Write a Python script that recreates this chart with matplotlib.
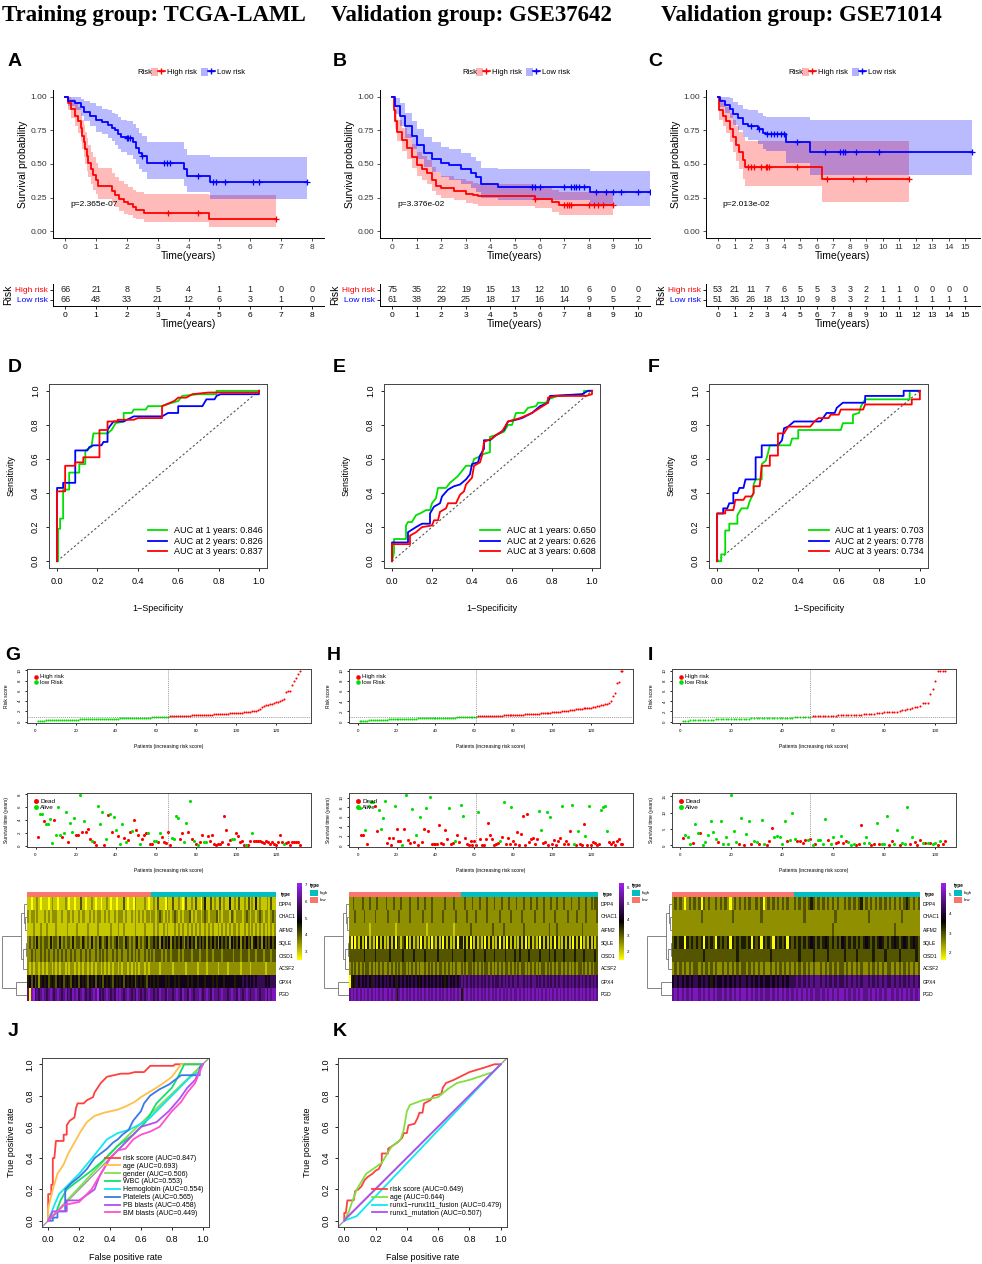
import numpy as np
import matplotlib
matplotlib.use("Agg")
import matplotlib.pyplot as plt
from matplotlib.patches import Patch, Rectangle
from matplotlib.lines import Line2D
from matplotlib.colors import LinearSegmentedColormap
from matplotlib.legend_handler import HandlerTuple

plt.rcParams['font.family'] = ['Liberation Sans', 'DejaVu Sans']

# ---------------- data: Kaplan-Meier (A, B, C) ----------------
# columns: time, survival, lower CI, upper CI ; censor times
A_high_t = [0, 0.08, 0.2, 0.3, 0.4, 0.5, 0.55, 0.6, 0.65, 0.7, 0.75, 0.85, 0.9, 1.0, 1.05, 1.5, 1.6, 1.75, 1.9, 2.05, 2.2, 2.3, 2.55, 4.65, 6.85]
A_high_s = [1.0, 0.95, 0.91, 0.86, 0.82, 0.77, 0.71, 0.66, 0.61, 0.56, 0.51, 0.46, 0.42, 0.38, 0.34, 0.30, 0.27, 0.24, 0.22, 0.20, 0.18, 0.16, 0.135, 0.09, 0.09]
A_high_lo = [1.0, 0.90, 0.84, 0.78, 0.73, 0.67, 0.61, 0.55, 0.50, 0.45, 0.40, 0.35, 0.31, 0.28, 0.24, 0.21, 0.18, 0.15, 0.13, 0.12, 0.10, 0.09, 0.07, 0.03, 0.03]
A_high_up = [1.0, 1.0, 0.98, 0.95, 0.92, 0.88, 0.83, 0.79, 0.74, 0.69, 0.64, 0.59, 0.55, 0.51, 0.47, 0.43, 0.40, 0.37, 0.35, 0.33, 0.31, 0.29, 0.28, 0.27, 0.27]
A_high_cens = [3.35, 4.3, 6.85]
A_low_t = [0, 0.1, 0.3, 0.5, 0.6, 0.8, 1.0, 1.2, 1.4, 1.5, 1.6, 1.7, 1.8, 2.0, 2.2, 2.3, 2.4, 2.5, 2.65, 3.85, 3.95, 4.7, 7.85]
A_low_s = [1.0, 0.97, 0.95, 0.92, 0.89, 0.86, 0.83, 0.81, 0.79, 0.77, 0.75, 0.72, 0.70, 0.69, 0.66, 0.62, 0.58, 0.56, 0.51, 0.46, 0.41, 0.365, 0.365]
A_low_lo = [1.0, 0.93, 0.90, 0.86, 0.82, 0.78, 0.74, 0.72, 0.69, 0.67, 0.64, 0.61, 0.59, 0.57, 0.54, 0.50, 0.46, 0.44, 0.39, 0.34, 0.29, 0.24, 0.24]
A_low_up = [1.0, 1.0, 1.0, 0.98, 0.97, 0.95, 0.93, 0.91, 0.90, 0.88, 0.87, 0.85, 0.83, 0.82, 0.80, 0.77, 0.73, 0.71, 0.66, 0.61, 0.57, 0.555, 0.555]
A_low_cens = [2.0, 2.05, 2.1, 2.5, 3.2, 3.3, 3.4, 4.3, 4.8, 4.9, 5.2, 6.1, 6.3, 7.85]

B_high_t = [0, 0.05, 0.1, 0.2, 0.4, 0.6, 0.8, 1.0, 1.2, 1.4, 1.6, 1.8, 2.0, 2.5, 3.0, 3.3, 3.5, 5.8, 6.5, 6.8, 9.0]
B_high_s = [1.0, 0.90, 0.82, 0.74, 0.68, 0.62, 0.55, 0.49, 0.46, 0.43, 0.38, 0.34, 0.32, 0.30, 0.28, 0.27, 0.26, 0.24, 0.215, 0.195, 0.195]
B_high_lo = [1.0, 0.85, 0.76, 0.67, 0.60, 0.54, 0.47, 0.41, 0.38, 0.35, 0.30, 0.27, 0.25, 0.23, 0.21, 0.20, 0.19, 0.17, 0.14, 0.12, 0.12]
B_high_up = [1.0, 0.96, 0.90, 0.83, 0.77, 0.72, 0.65, 0.59, 0.56, 0.53, 0.48, 0.44, 0.41, 0.39, 0.37, 0.36, 0.35, 0.33, 0.31, 0.29, 0.29]
B_high_cens = [5.8, 7.0, 7.1, 7.2, 7.3, 8.0, 8.2, 8.4, 8.6, 9.0]
B_low_t = [0, 0.1, 0.3, 0.5, 0.8, 1.0, 1.3, 1.6, 2.0, 2.3, 2.8, 3.2, 3.4, 3.6, 4.3, 8.05, 10.5]
B_low_s = [1.0, 0.93, 0.86, 0.78, 0.71, 0.64, 0.58, 0.54, 0.51, 0.49, 0.46, 0.43, 0.40, 0.35, 0.33, 0.29, 0.29]
B_low_lo = [1.0, 0.87, 0.78, 0.69, 0.61, 0.54, 0.48, 0.44, 0.40, 0.38, 0.35, 0.32, 0.29, 0.25, 0.23, 0.185, 0.185]
B_low_up = [1.0, 0.99, 0.95, 0.88, 0.82, 0.76, 0.70, 0.66, 0.63, 0.61, 0.58, 0.55, 0.52, 0.47, 0.46, 0.45, 0.45]
B_low_cens = [5.7, 5.8, 6.0, 7.0, 7.3, 7.4, 7.5, 7.6, 7.8, 8.3, 8.7, 9.0, 9.3, 10.0, 10.5]

C_high_t = [0, 0.05, 0.3, 0.5, 0.7, 0.9, 1.1, 1.3, 1.5, 1.65, 6.3, 11.6]
C_high_s = [1.0, 0.90, 0.86, 0.82, 0.76, 0.70, 0.64, 0.59, 0.53, 0.48, 0.385, 0.385]
C_high_lo = [1.0, 0.83, 0.78, 0.73, 0.66, 0.59, 0.52, 0.46, 0.39, 0.335, 0.22, 0.22]
C_high_up = [1.0, 0.98, 0.95, 0.92, 0.88, 0.83, 0.78, 0.74, 0.70, 0.67, 0.67, 0.67]
C_high_cens = [1.8, 2.0, 2.2, 2.6, 2.9, 3.0, 3.1, 4.8, 6.6, 8.2, 9.0, 11.6]
C_low_t = [0, 0.1, 0.4, 0.7, 0.9, 1.2, 1.5, 1.8, 2.4, 2.7, 2.9, 4.1, 5.6, 15.4]
C_low_s = [1.0, 0.97, 0.94, 0.91, 0.87, 0.84, 0.80, 0.78, 0.76, 0.73, 0.72, 0.66, 0.59, 0.59]
C_low_lo = [1.0, 0.92, 0.88, 0.84, 0.79, 0.75, 0.70, 0.68, 0.65, 0.61, 0.60, 0.505, 0.42, 0.42]
C_low_up = [1.0, 1.0, 1.0, 0.99, 0.96, 0.94, 0.91, 0.90, 0.88, 0.86, 0.85, 0.85, 0.825, 0.825]
C_low_cens = [2.0, 2.5, 3.0, 3.2, 3.4, 3.6, 3.8, 4.0, 4.8, 6.5, 7.4, 7.6, 7.7, 8.4, 9.8, 15.4]

A_risk_high = [66, 21, 8, 5, 4, 1, 1, 0, 0]
A_risk_low = [66, 48, 33, 21, 12, 6, 3, 1, 0]
B_risk_high = [75, 35, 22, 19, 15, 13, 12, 10, 6, 0, 0]
B_risk_low = [61, 38, 29, 25, 18, 17, 16, 14, 9, 5, 2]
C_risk_high = [53, 21, 11, 7, 6, 5, 5, 3, 3, 2, 1, 1, 0, 0, 0, 0]
C_risk_low = [51, 36, 26, 18, 13, 10, 9, 8, 3, 2, 1, 1, 1, 1, 1, 1]
pvals = ["p=2.365e-07", "p=3.376e-02", "p=2.013e-02"]

# ---------------- data: time-dependent ROC (D, E, F) ----------------
roc_D1 = [(0.005, 0), (0.005, 0.19), (0.015, 0.19), (0.015, 0.25), (0.03, 0.25), (0.03, 0.42), (0.06, 0.42), (0.06, 0.52), (0.11, 0.52), (0.11, 0.57), (0.14, 0.57), (0.14, 0.65), (0.17, 0.67), (0.18, 0.75), (0.25, 0.75), (0.27, 0.77), (0.29, 0.81), (0.33, 0.82), (0.33, 0.87), (0.37, 0.87), (0.38, 0.89), (0.44, 0.89), (0.45, 0.91), (0.52, 0.91), (0.57, 0.93), (0.6, 0.94), (0.62, 0.97), (0.7, 0.98), (0.79, 0.98), (0.79, 1.0), (1, 1)]
roc_D2 = [(0, 0), (0, 0.43), (0.03, 0.43), (0.03, 0.46), (0.09, 0.46), (0.09, 0.65), (0.15, 0.65), (0.16, 0.67), (0.18, 0.68), (0.22, 0.68), (0.23, 0.70), (0.25, 0.70), (0.25, 0.77), (0.26, 0.79), (0.28, 0.82), (0.33, 0.82), (0.38, 0.85), (0.52, 0.85), (0.55, 0.87), (0.6, 0.87), (0.6, 0.91), (0.72, 0.91), (0.74, 0.95), (0.78, 0.95), (0.79, 0.97), (0.81, 0.98), (1, 0.98), (1, 1)]
roc_D3 = [(0, 0), (0, 0.41), (0.04, 0.41), (0.04, 0.56), (0.09, 0.56), (0.09, 0.58), (0.13, 0.58), (0.13, 0.61), (0.21, 0.61), (0.21, 0.77), (0.25, 0.77), (0.25, 0.82), (0.3, 0.82), (0.3, 0.83), (0.38, 0.83), (0.4, 0.84), (0.52, 0.84), (0.52, 0.91), (0.56, 0.93), (0.58, 0.94), (0.6, 0.96), (0.64, 0.96), (0.67, 0.98), (0.75, 0.99), (1, 0.99), (1, 1)]
roc_E1 = [(0, 0), (0.01, 0.05), (0.01, 0.13), (0.07, 0.13), (0.07, 0.21), (0.08, 0.23), (0.1, 0.23), (0.12, 0.27), (0.14, 0.28), (0.17, 0.3), (0.19, 0.3), (0.2, 0.34), (0.22, 0.37), (0.23, 0.43), (0.27, 0.43), (0.29, 0.46), (0.3, 0.47), (0.33, 0.5), (0.35, 0.53), (0.37, 0.56), (0.4, 0.56), (0.41, 0.6), (0.43, 0.61), (0.46, 0.63), (0.49, 0.64), (0.49, 0.73), (0.52, 0.74), (0.56, 0.76), (0.58, 0.8), (0.6, 0.8), (0.62, 0.87), (0.66, 0.87), (0.68, 0.9), (0.72, 0.91), (0.73, 0.93), (0.77, 0.93), (0.78, 0.95), (0.83, 0.97), (0.96, 0.98), (0.96, 1.0), (1, 1)]
roc_E2 = [(0, 0), (0, 0.11), (0.08, 0.11), (0.08, 0.17), (0.12, 0.2), (0.15, 0.22), (0.19, 0.22), (0.19, 0.28), (0.21, 0.32), (0.24, 0.34), (0.25, 0.38), (0.28, 0.42), (0.31, 0.44), (0.34, 0.45), (0.37, 0.48), (0.39, 0.51), (0.4, 0.57), (0.43, 0.58), (0.44, 0.62), (0.46, 0.66), (0.46, 0.71), (0.49, 0.71), (0.52, 0.74), (0.56, 0.77), (0.58, 0.82), (0.62, 0.83), (0.65, 0.84), (0.7, 0.87), (0.74, 0.91), (0.78, 0.93), (0.79, 0.97), (0.95, 0.98), (0.98, 1.0), (1, 1)]
roc_E3 = [(0, 0), (0, 0.1), (0.09, 0.1), (0.09, 0.15), (0.12, 0.17), (0.15, 0.2), (0.2, 0.21), (0.21, 0.24), (0.23, 0.24), (0.24, 0.29), (0.27, 0.31), (0.28, 0.34), (0.32, 0.34), (0.34, 0.39), (0.36, 0.41), (0.37, 0.45), (0.4, 0.49), (0.41, 0.56), (0.44, 0.58), (0.45, 0.62), (0.46, 0.7), (0.5, 0.72), (0.52, 0.74), (0.55, 0.76), (0.58, 0.82), (0.64, 0.84), (0.7, 0.87), (0.74, 0.9), (0.78, 0.93), (0.78, 0.96), (0.82, 0.97), (0.97, 0.97), (1, 0.98), (1, 1)]
roc_F1 = [(0, 0), (0.02, 0), (0.02, 0.04), (0.04, 0.04), (0.04, 0.18), (0.06, 0.18), (0.06, 0.22), (0.1, 0.22), (0.1, 0.27), (0.12, 0.31), (0.15, 0.31), (0.16, 0.35), (0.18, 0.4), (0.18, 0.45), (0.19, 0.48), (0.22, 0.48), (0.22, 0.57), (0.24, 0.59), (0.25, 0.63), (0.26, 0.68), (0.36, 0.68), (0.37, 0.72), (0.4, 0.72), (0.4, 0.77), (0.61, 0.77), (0.62, 0.81), (0.67, 0.81), (0.67, 0.86), (0.7, 0.87), (0.71, 0.91), (0.73, 0.95), (0.95, 0.95), (0.95, 1.0), (1, 1)]
roc_F2 = [(0, 0), (0, 0.28), (0.03, 0.28), (0.03, 0.31), (0.05, 0.31), (0.06, 0.34), (0.08, 0.34), (0.08, 0.4), (0.1, 0.4), (0.11, 0.43), (0.13, 0.43), (0.14, 0.48), (0.19, 0.48), (0.19, 0.61), (0.22, 0.61), (0.22, 0.68), (0.3, 0.68), (0.32, 0.71), (0.33, 0.78), (0.35, 0.79), (0.38, 0.82), (0.51, 0.82), (0.54, 0.87), (0.58, 0.87), (0.59, 0.9), (0.62, 0.93), (0.73, 0.93), (0.73, 0.97), (0.92, 0.97), (0.92, 1.0), (1, 1)]
roc_F3 = [(0, 0), (0, 0.28), (0.04, 0.28), (0.04, 0.3), (0.08, 0.3), (0.09, 0.36), (0.13, 0.36), (0.14, 0.38), (0.17, 0.38), (0.18, 0.4), (0.18, 0.44), (0.21, 0.44), (0.22, 0.56), (0.26, 0.56), (0.26, 0.62), (0.3, 0.62), (0.3, 0.75), (0.33, 0.75), (0.35, 0.79), (0.46, 0.79), (0.48, 0.82), (0.5, 0.84), (0.55, 0.84), (0.56, 0.86), (0.6, 0.86), (0.61, 0.89), (0.72, 0.89), (0.73, 0.92), (0.96, 0.92), (0.96, 0.95), (1, 0.95), (1, 1)]
auc_D = ["0.846", "0.826", "0.837"]
auc_E = ["0.650", "0.626", "0.608"]
auc_F = ["0.703", "0.778", "0.734"]

# ---------------- data: risk score / survival status (G, H, I) ----------------
G_score_low = [0.10, 0.14, 0.17, 0.19, 0.21, 0.23, 0.24, 0.26, 0.27, 0.28, 0.29, 0.30, 0.31, 0.32, 0.33, 0.34, 0.35, 0.36, 0.37, 0.38,
               0.39, 0.40, 0.41, 0.42, 0.43, 0.44, 0.45, 0.46, 0.47, 0.48, 0.49, 0.50, 0.51, 0.52, 0.53, 0.54, 0.55, 0.56, 0.57, 0.58,
               0.59, 0.60, 0.61, 0.62, 0.63, 0.64, 0.65, 0.66, 0.67, 0.68, 0.70, 0.71, 0.72, 0.74, 0.75, 0.77, 0.78, 0.80, 0.82, 0.83,
               0.85, 0.87, 0.89, 0.91, 0.93, 0.95]
G_score_high = [1.00, 1.02, 1.04, 1.05, 1.07, 1.08, 1.10, 1.11, 1.13, 1.14, 1.16, 1.18, 1.19, 1.21, 1.23, 1.25, 1.27, 1.29, 1.31, 1.33,
                1.35, 1.37, 1.39, 1.41, 1.43, 1.46, 1.48, 1.50, 1.53, 1.55, 1.58, 1.61, 1.64, 1.67, 1.70, 1.73, 1.76, 1.80, 1.84, 1.88,
                1.92, 1.97, 2.02, 2.10, 2.30, 2.55, 2.80, 3.05, 3.20, 3.30, 3.35, 3.50, 3.70, 3.80, 3.90, 4.10, 4.30, 4.50, 5.70, 5.90,
                6.00, 7.20, 7.90, 8.60, 9.30, 9.90]
H_score_low = [0.10, 0.13, 0.15, 0.17, 0.19, 0.21, 0.23, 0.25, 0.27, 0.29, 0.31, 0.33, 0.35, 0.37, 0.39, 0.40, 0.42, 0.43, 0.45, 0.46,
               0.48, 0.49, 0.50, 0.52, 0.53, 0.54, 0.55, 0.56, 0.58, 0.59, 0.60, 0.61, 0.62, 0.63, 0.64, 0.65, 0.66, 0.67, 0.68, 0.69,
               0.70, 0.71, 0.72, 0.73, 0.74, 0.75, 0.76, 0.77, 0.78, 0.79, 0.80, 0.81, 0.82, 0.83, 0.84, 0.85, 0.86, 0.87, 0.88, 0.89,
               0.90]
H_score_high = [1.00, 1.02, 1.03, 1.05, 1.06, 1.08, 1.09, 1.11, 1.12, 1.14, 1.15, 1.17, 1.18, 1.20, 1.21, 1.23, 1.24, 1.26, 1.27, 1.29,
                1.31, 1.33, 1.35, 1.37, 1.39, 1.41, 1.43, 1.45, 1.48, 1.50, 1.53, 1.56, 1.59, 1.62, 1.65, 1.68, 1.71, 1.75, 1.79, 1.83,
                1.87, 1.91, 1.95, 2.00, 2.05, 2.10, 2.15, 2.20, 2.26, 2.32, 2.38, 2.44, 2.50, 2.56, 2.62, 2.66, 2.70, 2.73, 2.76, 2.80,
                2.90, 3.05, 3.15, 3.20, 3.30, 3.40, 3.55, 3.75, 4.00, 5.00, 5.60, 7.70, 7.75, 10.0, 10.0]
I_score_low = [0.10, 0.14, 0.17, 0.20, 0.22, 0.24, 0.26, 0.28, 0.30, 0.32, 0.34, 0.36, 0.38, 0.40, 0.42, 0.43, 0.45, 0.46, 0.48, 0.49,
               0.50, 0.52, 0.53, 0.54, 0.56, 0.57, 0.58, 0.60, 0.61, 0.62, 0.63, 0.64, 0.66, 0.67, 0.68, 0.69, 0.70, 0.71, 0.72, 0.74,
               0.75, 0.76, 0.77, 0.78, 0.80, 0.81, 0.82, 0.84, 0.85, 0.87, 0.90]
I_score_high = [1.00, 1.02, 1.04, 1.06, 1.08, 1.10, 1.12, 1.14, 1.16, 1.18, 1.20, 1.22, 1.24, 1.26, 1.28, 1.30, 1.32, 1.34, 1.36, 1.38,
                1.40, 1.42, 1.44, 1.46, 1.48, 1.70, 1.74, 1.78, 1.82, 1.86, 1.90, 1.92, 1.94, 1.96, 2.00, 2.20, 2.30, 2.45, 2.55, 2.65,
                2.80, 2.90, 3.00, 3.70, 3.70, 3.75, 5.40, 6.40, 8.00, 10.0, 10.0, 10.0, 10.0]

G_time = [1.4, 5.0, 4.9, 3.8, 3.3, 3.3, 4.2, 0.4, 4.0, 1.7, 6.1, 1.7, 1.3, 1.9, 5.2, 0.5, 3.5, 2.2, 4.3, 1.6,
          1.6, 7.9, 2.2, 3.9, 2.1, 2.6, 1.0, 0.7, 0.5, 0.1, 6.2, 3.4, 5.2, 0.1, 1.1, 4.8, 5.0, 2.2, 4.4, 2.5,
          1.5, 0.2, 3.4, 1.2, 0.6, 0.9, 2.2, 2.3, 4.0, 2.5, 1.7, 0.2, 1.0, 1.7, 2.0, 1.9, 0.2, 0.3, 0.8, 0.8,
          0.6, 2.0, 1.3, 0.5, 0.4, 2.1, 0.1, 1.2, 1.0, 4.7, 4.3, 1.0, 1.9, 0.5, 3.5, 2.2, 6.9, 1.1, 0.7, 0.3,
          0.1, 0.6, 1.6, 0.6, 0.6, 1.5, 0.7, 1.6, 0.3, 0.1, 0.3, 0.3, 0.6, 4.7, 2.4, 0.2, 0.9, 1.1, 1.1, 2.0,
          1.5, 0.5, 0.7, 0.1, 0.1, 0.1, 0.8, 1.9, 0.8, 0.8, 0.8, 0.7, 0.6, 0.4, 0.7, 0.5, 0.3, 0.6, 0.3, 0.1,
          0.5, 1.7, 0.5, 0.2, 0.4, 0.5, 0.1, 0.6, 0.6, 0.6, 0.6, 0.1]
G_status = ("DAADAAAADA" "AADAADAAAD" "DADADDDADD" "AAADADADAA" "DAADADDADD" "DADDDADDAA" "DADDDDDAAA"
            "ADDAADADAD" "ADDAADDDDD" "DDDDDDDAAD" "DDDDADDADD" "DDDDDDDDDD" "DDDADDDDDD" "DD")
H_time = [7.9, 2.2, 2.1, 3.2, 0.3, 8.3, 9.2, 9.2, 8.3, 3.1, 7.5, 3.4, 5.8, 9.4, 0.5, 1.5, 0.2, 1.5, 8.3, 3.5,
          0.9, 1.0, 0.2, 3.5, 10.6, 1.2, 0.6, 7.6, 0.8, 2.1, 0.2, 5.9, 0.7, 3.5, 7.8, 3.0, 10.1, 0.4, 0.3, 0.4,
          0.4, 4.2, 0.6, 0.4, 3.3, 1.3, 7.9, 0.3, 0.5, 0.9, 2.1, 0.8, 8.5, 6.1, 1.6, 0.3, 0.2, 0.9, 0.1, 0.9,
          0.1, 7.1, 1.3, 0.1, 0.1, 1.3, 4.8, 2.1, 1.4, 0.2, 0.3, 0.6, 1.0, 1.8, 9.1, 0.3, 1.6, 0.3, 8.1, 1.0,
          0.3, 2.9, 0.1, 2.5, 6.2, 0.2, 6.7, 0.8, 1.3, 1.6, 0.3, 1.4, 7.3, 3.2, 0.5, 0.7, 7.1, 0.2, 5.9, 0.4,
          1.2, 0.2, 1.0, 1.5, 8.3, 0.3, 0.9, 0.3, 3.1, 8.5, 0.3, 0.1, 3.1, 0.3, 0.1, 4.6, 1.9, 0.1, 8.2, 0.2,
          0.7, 0.6, 0.2, 0.3, 7.4, 8.1, 8.2, 3.1, 0.7, 0.4, 0.7, 0.2, 0.9, 1.3, 0.4, 0.4]
H_status = ("ADDADAAADD" "AAAADDDDAD" "DDADADDADA" "DADDADADDD" "DDDDDDADDA" "DDAADDDDDD" "DADDDDDDDD"
            "DDADADDDAD" "DDDDDDDDDD" "DDAADDADAD" "DDDDADDDDA" "ADADDDADAD" "DDDDAAAADD" "DDDDDD")
I_time = [2.2, 3.2, 2.6, 0.5, 0.6, 6.5, 3.9, 3.9, 0.2, 0.9, 3.1, 7.4, 4.0, 1.9, 1.0, 7.4, 0.4, 2.4, 0.5, 15.4,
          4.5, 1.1, 0.4, 8.4, 0.2, 3.4, 7.4, 0.5, 1.4, 1.0, 0.4, 7.6, 0.5, 0.1, 1.4, 5.4, 2.7, 2.9, 2.5, 0.5,
          7.4, 1.2, 1.7, 9.8, 1.9, 1.4, 1.2, 0.7, 1.6, 1.7, 2.0, 0.2, 0.3, 1.5, 1.7, 0.5, 8.2, 1.7, 0.5, 2.7,
          0.8, 0.9, 2.9, 0.6, 1.3, 1.0, 0.2, 0.4, 0.1, 0.5, 6.2, 0.8, 2.4, 0.7, 0.2, 0.3, 6.8, 0.4, 0.5, 0.5,
          9.0, 0.2, 1.4, 0.5, 4.6, 0.2, 0.8, 0.5, 11.6, 0.5, 2.5, 1.1, 0.2, 1.6, 0.8, 0.6, 0.7, 0.6, 0.4, 0.6,
          0.1, 1.4, 0.4, 1.4]
I_status = ("DAAADAADAA" "AAAADAAAAA" "AADADAADAA" "DAADDDAAAA" "ADAAADDDDA" "DADAAAADAA" "DDADDAAADD"
            "DAAADDADAA" "ADDAADAAAD" "ADDDADADAA" "DADD")

# ---------------- data: heatmaps (digit 0 = lowest, 9 = highest expression) ----------------
genes = ["DPP4", "CHAC1", "AIFM2", "SQLE", "CISD1", "ACSF2", "GPX4", "PGD"]
G_heat = [
    "1101121011" "1012110111" "2101101131" "1011210110" "1121011011" "1310110211" "112101"
    "1213111021" "1311210131" "1213110241" "1312113121" "1411213112" "1312141211" "121311",
    "2122121112" "1212221121" "1221211212" "2112121221" "1212112122" "2121121212" "121221"
    "2212321212" "1232121222" "3121221232" "1222312122" "2132122212" "3212212321" "221232",
    "1112111211" "2111121111" "1211112111" "1121111211" "1111211121" "1211111211" "112111"
    "1212112121" "1121212112" "1212121121" "2121121212" "1212212112" "1212121212" "121212",
    "2323242323" "3242332423" "2332423324" "3232423243" "2342323423" "3243232342" "323423"
    "3434253435" "2434353243" "5342435342" "4353425343" "4253435243" "5342453425" "343534",
    "2232322323" "2322323232" "3223232232" "2323223232" "3232232322" "3223232323" "223232"
    "3233323233" "2333232333" "3233323332" "3323333233" "3332333233" "3233323332" "333233",
    "2121221212" "1221212122" "1212212121" "2212121221" "2121212212" "1221212121" "221212"
    "2222122222" "2122222212" "2222122221" "2222212222" "1222222122" "2212222222" "122222",
    "4535342454" "5345435453" "4543545354" "5435453545" "3545435454" "5354545345" "454354"
    "5454555454" "5545455554" "5455455545" "5545455545" "5555455565" "6565656666" "565666",
    "7089676787" "6787678767" "8676878678" "7676787967" "6787676878" "7678767687" "676787"
    "7676877687" "7678768776" "8767787678" "7687767877" "6787768767" "8767787677" "868788",
]
H_heat = [
    "2232222322" "2322232222" "3222322232" "2223222322" "2322232222" "2232222322" "2"
    "2232223222" "3222322232" "2232223222" "3222322232" "2322232223" "2232223222" "3222322232" "23233",
    "2223222232" "2222322222" "2322222322" "2223222222" "3222232222" "2322222232" "2"
    "2223222232" "2222322222" "2322222322" "2223222222" "3222232222" "2322222232" "2223222232" "22223",
    "2222222222" "2122222222" "2222212222" "2222222222" "2212222222" "2222222122" "2"
    "2222232222" "2222222322" "2223222222" "2222322222" "2222222232" "2232222222" "2222223222" "22222",
    "3050314140" "4131404141" "3141404313" "4041413140" "4131403141" "4041413140" "4"
    "4141404141" "3140414131" "4041404141" "3141404141" "3140414141" "4041314141" "4041404131" "41413",
    "3333333343" "3333433333" "3343333334" "3333343333" "3433333343" "3333334333" "3"
    "3343333433" "3334333343" "3333433334" "3343333433" "3334333343" "3433334333" "3343333433" "33343",
    "2323232323" "3232323232" "2323232323" "3232323232" "2323232323" "3232323232" "2"
    "3232332323" "2323323232" "3232332323" "2323323232" "3232332323" "2323323232" "3232332323" "23233",
    "0454656565" "6546565656" "5656546565" "6565656545" "6565656565" "6545656565" "6"
    "7676767676" "7676767676" "6767676767" "7677676767" "7676767676" "7676776767" "6767676767" "67676",
    "7878787878" "7878787878" "8787874787" "8787878787" "8787878787" "8787878787" "8"
    "4787878787" "8787878787" "8787878787" "7878787878" "7878787878" "7878787878" "7878787878" "78787",
]
I_heat = [
    "2323202323" "2303232232" "3232023232" "3232232302" "3232323232" "2"
    "3232323432" "3232323232" "2323232342" "3232323232" "3232323432" "323",
    "2222222222" "2232222222" "2222232222" "2222222322" "2222222222" "2"
    "2222322222" "2222222322" "2222222222" "2322222222" "2222232222" "222",
    "2222222222" "2222222222" "2222222222" "2222222222" "2222222222" "2"
    "2222222222" "2222223222" "2222222222" "2222222222" "2232222222" "222",
    "3434404343" "4340434304" "3434043434" "4340434043" "4304343404" "3"
    "4343434543" "4345434343" "5434343434" "5434345434" "3454345434" "543",
    "3333333333" "3334333333" "3333333433" "3333333333" "3433333333" "3"
    "3343333343" "3333433333" "3433334333" "3334333343" "3333433333" "343",
    "2323232323" "3232323232" "2323232323" "3232323232" "2323232323" "2"
    "3232323232" "2323232323" "3232323232" "2323232323" "3232323232" "323",
    "5656565656" "6565654565" "5656565656" "6565656565" "5656565656" "6"
    "6767676767" "7676767676" "6767676767" "7676767676" "6767676767" "676",
    "7878787878" "8787878787" "7878787878" "8787878787" "7878787878" "7"
    "8787878787" "7878787878" "8787878787" "7878787878" "8787878787" "878",
]
# row dendrogram: (height, left, right), leaves are row indices
gene_tree = (10.0, (2.3, (1.4, 0, (0.7, 1, 2)), (1.5, (0.6, 3, 4), 5)), (4.6, 6, 7))

# ---------------- data: clinical ROC (J, K) ----------------
J_labels = ["risk score (AUC=0.847)", "age (AUC=0.693)", "gender (AUC=0.506)", "WBC (AUC=0.553)",
            "Hemoglobin (AUC=0.554)", "Platelets (AUC=0.565)", "PB blasts (AUC=0.458)", "BM blasts (AUC=0.449)"]
J_colors = ["#FF4040", "#FFC04A", "#80E050", "#10E070", "#10E8F0", "#3A78E8", "#B050F0", "#FF50D0"]
J_risk = [(0, 0), (0, 0.17), (0.02, 0.17), (0.02, 0.23), (0.03, 0.23), (0.03, 0.40), (0.04, 0.40), (0.05, 0.51), (0.1, 0.51), (0.1, 0.55), (0.12, 0.55), (0.12, 0.61), (0.14, 0.64), (0.17, 0.66), (0.18, 0.72), (0.19, 0.75), (0.23, 0.75), (0.25, 0.77), (0.29, 0.79), (0.3, 0.82), (0.32, 0.85), (0.34, 0.88), (0.36, 0.9), (0.38, 0.92), (0.47, 0.94), (0.52, 0.94), (0.56, 0.95), (0.62, 0.95), (0.66, 0.99), (0.81, 0.99), (0.82, 1.0), (1, 1)]
J_age = [(0, 0), (0, 0.08), (0.03, 0.2), (0.06, 0.3), (0.1, 0.36), (0.13, 0.43), (0.17, 0.5), (0.21, 0.57), (0.25, 0.63), (0.3, 0.67), (0.36, 0.69), (0.45, 0.71), (0.5, 0.73), (0.56, 0.76), (0.6, 0.79), (0.65, 0.82), (0.7, 0.85), (0.76, 0.89), (0.8, 0.92), (0.83, 0.96), (0.86, 1.0), (1, 1)]
J_gender = [(0, 0), (0.47, 0.5), (1, 1)]
J_wbc = [(0, 0), (0.05, 0.05), (0.08, 0.13), (0.12, 0.2), (0.2, 0.26), (0.28, 0.32), (0.35, 0.38), (0.45, 0.48), (0.55, 0.55), (0.62, 0.62), (0.66, 0.68), (0.7, 0.75), (0.75, 0.8), (0.8, 0.85), (0.84, 0.92), (0.88, 1.0), (1, 1)]
J_hgb = [(0, 0), (0.04, 0.1), (0.07, 0.17), (0.12, 0.22), (0.2, 0.3), (0.3, 0.42), (0.38, 0.52), (0.45, 0.56), (0.52, 0.58), (0.6, 0.62), (0.66, 0.66), (0.72, 0.72), (0.8, 0.8), (0.87, 0.87), (0.92, 0.92), (0.97, 0.95), (1, 1)]
J_plt = [(0, 0), (0.03, 0), (0.03, 0.02), (0.06, 0.02), (0.06, 0.06), (0.11, 0.06), (0.11, 0.2), (0.15, 0.24), (0.2, 0.28), (0.25, 0.33), (0.3, 0.4), (0.34, 0.43), (0.38, 0.46), (0.42, 0.5), (0.45, 0.52), (0.48, 0.55), (0.52, 0.58), (0.55, 0.64), (0.6, 0.7), (0.62, 0.75), (0.66, 0.8), (0.72, 0.84), (0.78, 0.87), (0.82, 0.9), (0.86, 0.93), (0.98, 0.93), (0.98, 0.98), (1, 1)]
J_pb = [(0, 0), (0.03, 0.06), (0.12, 0.06), (0.12, 0.13), (0.2, 0.13), (0.3, 0.2), (0.33, 0.28), (0.4, 0.4), (0.45, 0.45), (0.5, 0.5), (0.55, 0.55), (0.6, 0.6), (0.7, 0.63), (0.78, 0.7), (0.85, 0.78), (0.9, 0.85), (0.95, 0.9), (1, 1)]
J_bm = [(0, 0), (0.05, 0.05), (0.1, 0.1), (0.2, 0.12), (0.28, 0.2), (0.34, 0.3), (0.4, 0.4), (0.45, 0.45), (0.5, 0.46), (0.55, 0.52), (0.6, 0.55), (0.66, 0.57), (0.72, 0.6), (0.8, 0.7), (0.86, 0.76), (0.9, 0.82), (0.95, 0.88), (1, 1)]
K_labels = ["risk score (AUC=0.649)", "age (AUC=0.644)", "runx1\u2212runx1t1_fusion (AUC=0.479)", "runx1_mutation (AUC=0.507)"]
K_colors = ["#FF4040", "#80E040", "#10E8F0", "#B050F0"]
K_risk = [(0, 0), (0, 0.05), (0.01, 0.05), (0.02, 0.13), (0.06, 0.13), (0.07, 0.19), (0.09, 0.2), (0.11, 0.22), (0.13, 0.26), (0.15, 0.28), (0.18, 0.3), (0.2, 0.32), (0.22, 0.33), (0.24, 0.37), (0.24, 0.43), (0.28, 0.43), (0.28, 0.46), (0.31, 0.48), (0.34, 0.5), (0.37, 0.53), (0.38, 0.56), (0.4, 0.56), (0.41, 0.61), (0.45, 0.62), (0.47, 0.66), (0.48, 0.69), (0.5, 0.69), (0.51, 0.75), (0.55, 0.77), (0.57, 0.8), (0.62, 0.81), (0.63, 0.85), (0.65, 0.88), (0.7, 0.9), (0.74, 0.92), (0.8, 0.95), (0.9, 0.98), (0.96, 1.0), (1, 1)]
K_age = [(0, 0), (0.03, 0.06), (0.05, 0.12), (0.08, 0.2), (0.14, 0.3), (0.24, 0.37), (0.3, 0.47), (0.36, 0.52), (0.38, 0.58), (0.4, 0.7), (0.42, 0.74), (0.5, 0.77), (0.6, 0.79), (0.66, 0.84), (0.72, 0.88), (0.8, 0.9), (0.86, 0.92), (0.95, 0.95), (1, 1)]
K_fusion = [(0, 0), (0.08, 0.03), (1, 1)]
K_mut = [(0, 0), (0.015, 0.02), (1, 1)]

# ---------------- layout helpers ----------------
W, H = 982, 1264
fig = plt.figure(figsize=(W / 100, H / 100), dpi=100)
RED, BLUE, GREEN = "#FF0000", "#0000FF", "#00E000"


def px(x0, y0, x1, y1):
    return [x0 / W, 1 - y1 / H, (x1 - x0) / W, (y1 - y0) / H]


def label(x, y, s):
    fig.text(x / W, 1 - y / H, s, fontsize=14, fontweight="bold", va="center", ha="left")


for cx, s in [(154, "Training group: TCGA-LAML"), (471, "Validation group: GSE37642"),
              (801, "Validation group: GSE71014")]:
    fig.text(cx / W, 1 - 15 / H, s, family="Liberation Serif", fontweight="bold",
             fontsize=16.5, ha="center", va="center")


# ---------------- KM panels ----------------
def km_panel(x0, x1, xlim, xmax, curves, risk_hi, risk_lo, pval, pval_x, leg_x):
    ax = fig.add_axes(px(x0, 90, x1, 238))
    for (t, s, lo, up, cens), col in zip(curves, (RED, BLUE)):
        ax.fill_between(t, lo, up, step="post", color=col, alpha=0.27, lw=0)
        ax.step(t, s, where="post", color=col, lw=1.3)
        idx = np.searchsorted(t, cens, side="right") - 1
        ax.plot(cens, np.array(s)[idx], "+", color=col, ms=4, mew=0.9)
    ax.text(pval_x, 0.2, pval, fontsize=6, va="center")
    ax.set_xlim(xlim)
    ax.set_ylim(-0.05, 1.05)
    ax.set_xticks(range(xmax + 1))
    ax.set_yticks([0, 0.25, 0.5, 0.75, 1.0])
    ax.set_yticklabels(["0.00", "0.25", "0.50", "0.75", "1.00"])
    ax.set_xlabel("Time(years)", fontsize=7.5, labelpad=0)
    ax.set_ylabel("Survival probability", fontsize=7.5, labelpad=2)
    ax.spines[["top", "right"]].set_visible(False)
    ax.tick_params(labelsize=6, length=2.5, width=0.6, pad=1.5, colors="#333333")
    ax.spines[["left", "bottom"]].set_linewidth(0.7)

    tb = fig.add_axes(px(x0, 284, x1, 306))
    for i in range(xmax + 1):
        tb.text(i, 0.75, str(risk_hi[i]), ha="center", va="center", fontsize=6.5, color="#222222")
        tb.text(i, 0.28, str(risk_lo[i]), ha="center", va="center", fontsize=6.5, color="#222222")
    tb.set_xlim(xlim)
    tb.set_ylim(0, 1)
    tb.set_xticks(range(xmax + 1))
    tb.set_yticks([0.75, 0.28])
    tb.set_yticklabels(["High risk", "Low risk"])
    for tl, c in zip(tb.get_yticklabels(), (RED, BLUE)):
        tl.set_color(c)
    tb.spines[["top", "right"]].set_visible(False)
    tb.spines[["left", "bottom"]].set_linewidth(0.7)
    tb.tick_params(labelsize=6, length=2.5, width=0.6, pad=1.5)
    tb.set_xlabel("Time(years)", fontsize=7.5, labelpad=0)
    tb.set_ylabel("Risk", fontsize=7.5, labelpad=1)

    fig.text(leg_x / W, 1 - 72 / H, "Risk", fontsize=5.5, va="center")
    handles = [(Patch(facecolor=c, alpha=0.3, lw=0), Line2D([], [], color=c, marker="+", lw=1.2, ms=4))
               for c in (RED, BLUE)]
    fig.legend(handles, ["High risk", "Low risk"], handler_map={tuple: HandlerTuple(ndivide=None)},
               loc="center left", bbox_to_anchor=((leg_x + 14) / W, 1 - 72 / H), ncol=2, frameon=False,
               fontsize=5.5, handlelength=1.8, handleheight=1.2, columnspacing=0.5, handletextpad=0.3,
               borderpad=0, borderaxespad=0)


km_panel(53, 324, (-0.4, 8.4), 8,
         [(A_high_t, A_high_s, A_high_lo, A_high_up, A_high_cens), (A_low_t, A_low_s, A_low_lo, A_low_up, A_low_cens)],
         A_risk_high, A_risk_low, pvals[0], 0.15, 137)
km_panel(380, 650, (-0.5, 10.5), 10,
         [(B_high_t, B_high_s, B_high_lo, B_high_up, B_high_cens), (B_low_t, B_low_s, B_low_lo, B_low_up, B_low_cens)],
         B_risk_high, B_risk_low, pvals[1], 0.2, 462)
km_panel(706, 980, (-0.73, 15.9), 15,
         [(C_high_t, C_high_s, C_high_lo, C_high_up, C_high_cens), (C_low_t, C_low_s, C_low_lo, C_low_up, C_low_cens)],
         C_risk_high, C_risk_low, pvals[2], 0.25, 788)


# ---------------- ROC panels ----------------
def base_axes(rect, fs, pad=1.5):
    ax = fig.add_axes(rect)
    for sp in ax.spines.values():
        sp.set_linewidth(0.7)
        sp.set_color("#444444")
    ax.tick_params(labelsize=fs, length=2.5, width=0.6, pad=pad)
    return ax


def roc_panel(x0, x1, curves, aucs):
    ax = base_axes(px(x0, 384, x1, 568), 6.5, pad=4)
    ax.plot([0, 1], [0, 1], ls=(0, (2, 2)), color="#555555", lw=0.8)
    for pts, c, a, yr in zip(curves, (GREEN, BLUE, RED), aucs, (1, 2, 3)):
        xy = np.array(pts)
        ax.plot(xy[:, 0], xy[:, 1], color=c, lw=1.3, label="AUC at %d years: %s" % (yr, a))
    ax.set_xlim(-0.04, 1.04)
    ax.set_ylim(-0.04, 1.04)
    ax.set_xticks(np.arange(0, 1.01, 0.2))
    ax.set_yticks(np.arange(0, 1.01, 0.2))
    ax.set_xticklabels(["0.0", "0.2", "0.4", "0.6", "0.8", "1.0"])
    ax.set_yticklabels(["0.0", "0.2", "0.4", "0.6", "0.8", "1.0"], rotation=90, va="center")
    ax.set_xlabel("1\u2212Specificity", fontsize=6.5, labelpad=13)
    ax.set_ylabel("Sensitivity", fontsize=6.5, labelpad=11)
    ax.legend(loc="lower right", bbox_to_anchor=(1.0, 0.04), frameon=False, fontsize=6.5,
              handlelength=2.2, labelspacing=0.15, handletextpad=0.7, borderpad=0)


roc_panel(49, 267, [roc_D1, roc_D2, roc_D3], auc_D)
roc_panel(384, 600, [roc_E1, roc_E2, roc_E3], auc_E)
roc_panel(709, 928, [roc_F1, roc_F2, roc_F3], auc_F)

# ---------------- risk score / survival status panels ----------------
cmap = LinearSegmentedColormap.from_list("ybp", ["#FFFF00", "#000000", "#A020F0"])


def r_lim(lo, hi):
    pad = 0.04 * (hi - lo)
    return lo - pad, hi + pad


def small_axes_style(ax, xlab, ylab):
    ax.tick_params(length=1.5, pad=2.5)
    for tl in ax.get_yticklabels():
        tl.set_rotation(90)
        tl.set_va("center")
    ax.set_xlabel(xlab, fontsize=3.6, labelpad=8)
    ax.set_ylabel(ylab, fontsize=3.6, labelpad=6)


def risk_panels(x0, x1, s_low, s_high, times, status, surv_ticks):
    scores = np.array(s_low + s_high)
    n, nl = len(scores), len(s_low)
    pts = np.arange(1, n + 1)
    ax = base_axes(px(x0, 669, x1, 723), 3.2)
    ax.scatter(pts[nl:], scores[nl:], s=2.2, color=RED, lw=0, label="High risk")
    ax.scatter(pts[:nl], scores[:nl], s=2.2, color=GREEN, lw=0, label="low Risk")
    ax.axvline(nl, ls=(0, (1.5, 1.5)), color="#777777", lw=0.5)
    ax.axhline((scores[nl - 1] + scores[nl]) / 2, ls=(0, (1.5, 1.5)), color="#777777", lw=0.5)
    ax.set_xlim(r_lim(1, n))
    ax.set_ylim(r_lim(scores.min(), scores.max()))
    ax.set_yticks([0, 2, 4, 6, 8, 10])
    ax.set_xticks(np.arange(0, n + 1, 20))
    small_axes_style(ax, "Patients (increasing risk score)", "Risk score")
    ax.legend(loc="upper left", frameon=False, fontsize=4.4, markerscale=2.2, handletextpad=0.1,
              labelspacing=0.1, borderpad=0.3, handlelength=1.2)

    t = np.array(times)
    dead = np.array([c == "D" for c in status])
    ax2 = base_axes(px(x0, 793, x1, 847), 3.2)
    ax2.scatter(pts[dead], t[dead], s=5, color=RED, lw=0, label="Dead")
    ax2.scatter(pts[~dead], t[~dead], s=5, color=GREEN, lw=0, label="Alive")
    ax2.axvline(nl, ls=(0, (1.5, 1.5)), color="#777777", lw=0.5)
    ax2.set_xlim(r_lim(1, n))
    ax2.set_ylim(r_lim(t.min(), t.max()))
    ax2.set_yticks(surv_ticks)
    ax2.set_xticks(np.arange(0, n + 1, 20))
    small_axes_style(ax2, "Patients (increasing risk score)", "Survival time (years)")
    ax2.legend(loc="upper left", frameon=False, fontsize=4.6, markerscale=1.6, handletextpad=0.1,
               labelspacing=0.1, borderpad=0.3, handlelength=1.2)


risk_panels(27, 311, G_score_low, G_score_high, G_time, G_status, [0, 2, 4, 6, 8])
risk_panels(349, 633, H_score_low, H_score_high, H_time, H_status, [0, 2, 4, 6, 8, 10])
risk_panels(672, 956, I_score_low, I_score_high, I_time, I_status, [0, 5, 10, 15])


# ---------------- heatmaps ----------------
def draw_tree(ax, node):
    if isinstance(node, int):
        return node + 0.5, 0.0
    h, a, b = node
    ya, ha = draw_tree(ax, a)
    yb, hb = draw_tree(ax, b)
    kw = dict(color="#555555", lw=0.5, solid_capstyle="butt")
    ax.plot([ha, h], [ya, ya], **kw)
    ax.plot([hb, h], [yb, yb], **kw)
    ax.plot([h, h], [ya, yb], **kw)
    return (ya + yb) / 2, h


def heat_panel(x0, x1, rows, n_low, n_high, vmin, vmax, cb_ticks):
    n = min(len(r) for r in rows)
    mat = np.array([[int(c) for c in r[:n]] for r in rows], float)
    vals = vmin + mat / 9.0 * (vmax - vmin)
    ax = fig.add_axes(px(x0, 897, x1, 1001))
    im = ax.imshow(vals, aspect="auto", cmap=cmap, vmin=vmin, vmax=vmax, interpolation="nearest",
                   extent=(0, n, len(rows), 0))
    ax.set_xticks([])
    ax.yaxis.tick_right()
    ax.set_yticks(np.arange(len(rows)) + 0.5)
    ax.set_yticklabels(genes, fontsize=3.6)
    ax.tick_params(length=0, pad=2)
    for sp in ax.spines.values():
        sp.set_visible(False)

    ab = fig.add_axes(px(x0, 892, x1, 897))
    ab.add_patch(Rectangle((0, 0), n_low, 1, color="#F8766D", lw=0))
    ab.add_patch(Rectangle((n_low, 0), n_high, 1, color="#00BFC4", lw=0))
    ab.set_xlim(0, n_low + n_high)
    ab.set_ylim(0, 1)
    ab.axis("off")
    ab.text(1.02, 0.5, "type", transform=ab.transAxes, fontsize=3.4, va="center", fontweight="bold")

    da = fig.add_axes(px(x0 - 27, 897, x0, 1001))
    draw_tree(da, gene_tree)
    da.set_xlim(gene_tree[0] * 1.08, 0)
    da.set_ylim(len(rows), 0)
    da.axis("off")

    cx = x1 + 21
    cax = fig.add_axes(px(cx, 883, cx + 5, 960))
    cb = fig.colorbar(im, cax=cax)
    cb.set_ticks(cb_ticks)
    cb.outline.set_visible(False)
    cax.tick_params(labelsize=3.2, length=0, pad=2)

    lx = cx + 13
    fig.text(lx / W, 1 - 886 / H, "type", fontsize=3.4, fontweight="bold", va="center")
    for k, (c, s) in enumerate([("#00BFC4", "high"), ("#F8766D", "low")]):
        yy = 890 + k * 7
        fig.add_artist(Rectangle((lx / W, 1 - (yy + 6) / H), 8 / W, 6 / H, color=c, lw=0))
        fig.text((lx + 10) / W, 1 - (yy + 3) / H, s, fontsize=3.2, va="center")


heat_panel(27, 276, G_heat, len(G_score_low), len(G_score_high), 2.5, 7.1, [3, 4, 5, 6, 7])
heat_panel(349, 598, H_heat, len(H_score_low), len(H_score_high), 1.5, 6.3, [2, 3, 4, 5, 6])
heat_panel(672, 920, I_heat, len(I_score_low), len(I_score_high), 1.6, 5.6, [2, 3, 4, 5])


# ---------------- clinical ROC (J, K) ----------------
def clin_roc(x0, x1, curves, labels, colors, leg_anchor):
    ax = base_axes(px(x0, 1058, x1, 1227), 6.5, pad=3)
    ax.plot([-0.04, 1.04], [-0.04, 1.04], color="#999999", lw=1.0)
    for pts, lab, c in zip(curves, labels, colors):
        xy = np.array(pts)
        ax.plot(xy[:, 0], xy[:, 1], color=c, lw=1.3, label=lab)
    ax.set_xlim(-0.04, 1.04)
    ax.set_ylim(-0.04, 1.04)
    ax.set_xticks(np.arange(0, 1.01, 0.2))
    ax.set_yticks(np.arange(0, 1.01, 0.2))
    ax.set_xticklabels(["0.0", "0.2", "0.4", "0.6", "0.8", "1.0"])
    ax.set_yticklabels(["0.0", "0.2", "0.4", "0.6", "0.8", "1.0"], rotation=90, va="center")
    ax.set_xlabel("False positive rate", fontsize=6.5, labelpad=7)
    ax.set_ylabel("True positive rate", fontsize=6.5, labelpad=7)
    ax.legend(loc="lower right", bbox_to_anchor=leg_anchor, frameon=False, fontsize=5.0,
              handlelength=2.2, labelspacing=0.12, handletextpad=0.5, borderpad=0)


clin_roc(42, 209, [J_risk, J_age, J_gender, J_wbc, J_hgb, J_plt, J_pb, J_bm], J_labels, J_colors, (0.99, 0.04))
clin_roc(338, 507, [K_risk, K_age, K_fusion, K_mut], K_labels, K_colors, (0.99, 0.04))

# ---------------- panel letters ----------------
for x, y, s in [(8, 62, "A"), (333, 62, "B"), (648, 62, "C"), (8, 368, "D"), (333, 368, "E"), (648, 368, "F"),
                (5, 656, "G"), (327, 656, "H"), (648, 656, "I"), (8, 1031, "J"), (333, 1031, "K")]:
    label(x, y, s)

fig.savefig("out.png", dpi=100)
